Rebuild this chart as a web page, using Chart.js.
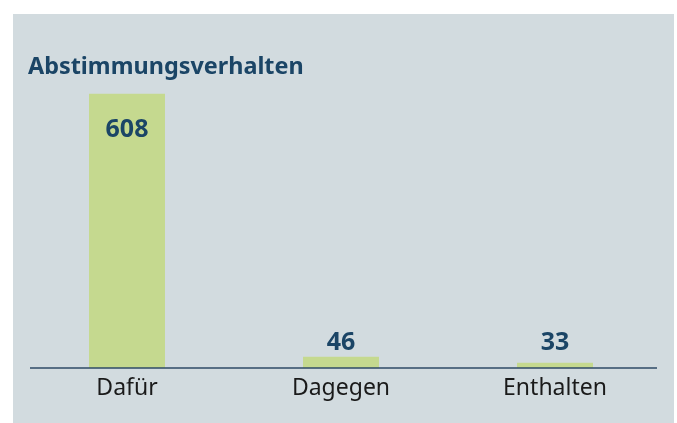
<!DOCTYPE html>
<html>
<head>
<meta charset="utf-8">
<script src="https://cdn.jsdelivr.net/npm/chart.js@4"></script>
<style>
  html, body { margin: 0; padding: 0; background: #ffffff; }
  #box { position: absolute; left: 13px; top: 14px; width: 661px; height: 409px; background: #d2dbdf; }
</style>
</head>
<body>
<div id="box"><canvas id="chart" width="661" height="409"></canvas></div>
<script>
// Abstimmungsverhalten - Stimmen je Option
var title = 'Abstimmungsverhalten';
var categories = ['Dafür', 'Dagegen', 'Enthalten'];
var votes = [608, 46, 33];

var darkBlue = '#1b4566';

// Titel oben links
var headline = {
    id: 'headline',
    afterDraw: function (chart) {
        var ctx = chart.ctx;
        ctx.save();
        ctx.fillStyle = darkBlue;
        ctx.font = 'bold 23.4px "Noto Sans"';
        ctx.textBaseline = 'alphabetic';
        ctx.textAlign = 'left';
        ctx.fillText(title, chart.chartArea.left + 8, 60);
        ctx.restore();
    }
};

// Achsenlinie unten
var baseLine = {
    id: 'baseLine',
    afterDatasetsDraw: function (chart) {
        var ctx = chart.ctx;
        var a = chart.chartArea;
        ctx.save();
        ctx.strokeStyle = '#2e4a66';
        ctx.lineWidth = 1.5;
        ctx.beginPath();
        ctx.moveTo(a.left + 10, a.bottom);
        ctx.lineTo(a.right - 5, a.bottom);
        ctx.stroke();
        ctx.restore();
    }
};

// Werte an den Balken
var valueLabels = {
    id: 'valueLabels',
    afterDatasetsDraw: function (chart) {
        var ctx = chart.ctx;
        var bottom = chart.chartArea.bottom;
        var meta = chart.getDatasetMeta(0);
        ctx.save();
        ctx.fillStyle = darkBlue;
        ctx.font = 'bold 25px "Noto Sans"';
        ctx.textAlign = 'center';
        ctx.textBaseline = 'alphabetic';
        meta.data.forEach(function (bar, i) {
            var h = bottom - bar.y;
            var y = h > 60 ? bar.y + 43.5 : bottom - 17.5;
            ctx.fillText(String(votes[i]), bar.x, y);
        });
        ctx.restore();
    }
};

var ctx = document.getElementById('chart');

var chart = new Chart(ctx, {
    type: 'bar',
    data: {
        labels: categories,
        datasets: [{
            label: title,
            backgroundColor: '#c5d98f',
            data: votes,
            barPercentage: 0.355,
            categoryPercentage: 1.0
        }]
    },
    options: {
        responsive: false,
        animation: false,
        layout: {
            padding: { top: 79.5, left: 7, right: 12, bottom: 13.5 }
        },
        plugins: {
            legend: { display: false },
            title: { display: false },
            tooltip: { enabled: false }
        },
        scales: {
            x: {
                grid: { display: false, drawTicks: false },
                border: { display: false },
                ticks: {
                    color: '#1a1a1a',
                    padding: 7,
                    font: { family: '"Noto Sans"', size: 23 }
                }
            },
            y: {
                display: false,
                min: 22,
                max: 608
            }
        }
    },
    plugins: [headline, baseLine, valueLabels]
});
</script>
</body>
</html>
